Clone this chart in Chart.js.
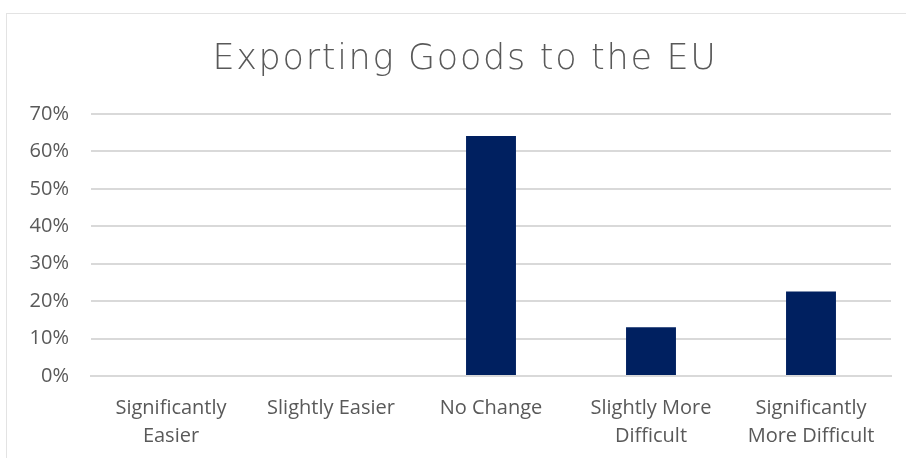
<!DOCTYPE html>
<html>
<head>
<meta charset="utf-8">
<script src="https://cdn.jsdelivr.net/npm/chart.js@4"></script>
<style>
  html, body { margin: 0; padding: 0; background: #fff; }
  #frame {
    position: absolute; left: 6px; top: 13px; width: 905px; height: 450px;
    border: 1.5px solid #e3e3e3; box-sizing: border-box;
  }
  #wrap { position: absolute; left: 0; top: 0; width: 906px; height: 458px; }
  #title {
    position: absolute; left: 0; top: 37px; width: 930px; text-align: center;
    font-family: 'DejaVu Sans'; font-weight: 200; font-size: 35px;
    letter-spacing: 1.7px; color: #595959; white-space: nowrap;
  }
</style>
</head>
<body>
<div id="frame"></div>
<div id="wrap"><canvas id="barChart"></canvas></div>
<div id="title">Exporting Goods to the EU</div>
<script>
const categories = [
    ['Significantly', 'Easier'],
    'Slightly Easier',
    'No Change',
    ['Slightly More', 'Difficult'],
    ['Significantly', 'More Difficult']
];
const shares = [0, 0, 64.1, 13.0, 22.6];
const y_ticks = [0, 10, 20, 30, 40, 50, 60, 70];

const text_color = '#595959';
const grid_color = '#d9d9d9';

const ctx = document.getElementById('barChart').getContext('2d');

new Chart(ctx, {
    type: 'bar',
    data: {
        labels: categories,
        datasets: [{
            label: 'Exporting Goods to the EU',
            data: shares,
            backgroundColor: '#002060',
            borderWidth: 0,
            barPercentage: 0.52,
            categoryPercentage: 0.6
        }]
    },
    options: {
        responsive: true,
        maintainAspectRatio: false,
        animation: false,
        layout: { padding: { left: 0, right: 15, top: 114, bottom: 0 } },
        plugins: {
            legend: { display: false },
            tooltip: { enabled: false },
            title: { display: false }
        },
        scales: {
            x: {
                grid: { display: false, drawTicks: false },
                border: { color: grid_color, width: 2 },
                ticks: {
                    color: text_color,
                    font: { family: 'Open Sans', size: 20, lineHeight: 1.4 },
                    padding: 18,
                    maxRotation: 0,
                    autoSkip: false
                },
                afterFit: (scale) => { scale.height = 82; }
            },
            y: {
                min: 0,
                max: 70,
                afterBuildTicks: (scale) => {
                    scale.ticks = y_ticks.map(v => ({ value: v }));
                },
                grid: { color: grid_color, lineWidth: 2, drawTicks: false },
                border: { display: false },
                ticks: {
                    color: text_color,
                    font: { family: 'Open Sans', size: 20 },
                    padding: 22,
                    callback: (v) => v + '%'
                },
                afterFit: (scale) => { scale.width = 91; }
            }
        }
    }
});
</script>
</body>
</html>
